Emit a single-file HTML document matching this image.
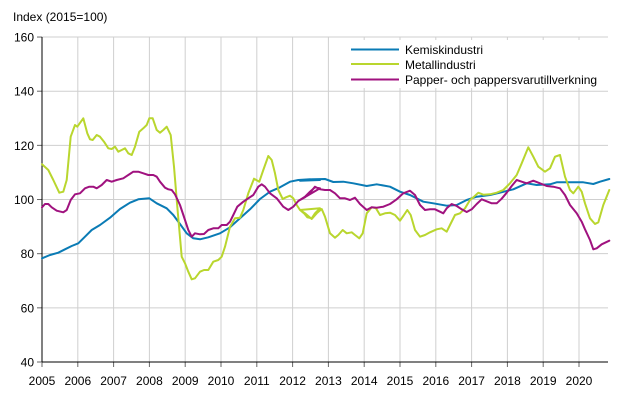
<!DOCTYPE html>
<html><head><meta charset="utf-8"><style>
body{margin:0;background:#fff}
svg{display:block;font-family:"Liberation Sans",sans-serif;font-size:12px;fill:#000}
</style></head><body>
<svg id="s" width="620" height="400" xmlns="http://www.w3.org/2000/svg">
<text x="13" y="21">Index (2015=100)</text>
<g id="grid" stroke="#cfcfcf" stroke-width="1"></g>
<g id="ax"></g>
<g id="series" fill="none" stroke-width="2" stroke-linejoin="round" stroke-linecap="round"></g>
<g>
<rect x="345" y="40" width="262" height="48" fill="#fff"/>
<line x1="351" y1="49.5" x2="399" y2="49.5" stroke="#0a7bb5" stroke-width="2"/>
<line x1="351" y1="64" x2="399" y2="64" stroke="#b9d62e" stroke-width="2"/>
<line x1="351" y1="79.5" x2="399" y2="79.5" stroke="#a0127f" stroke-width="2"/>
<text x="405" y="54">Kemiskindustri</text>
<text x="405" y="69">Metallindustri</text>
<text x="405" y="84">Papper- och pappersvarutillverkning</text>
</g>
</svg>
<script>
var NS="http://www.w3.org/2000/svg";
function el(p,t,a,txt){var e=document.createElementNS(NS,t);for(var k in a)e.setAttribute(k,a[k]);if(txt)e.textContent=txt;p.appendChild(e);return e;}
var g=document.getElementById('grid'),ax=document.getElementById('ax'),se=document.getElementById('series');
for(var v=60;v<=160;v+=20){var y=362-(v-40)*2.708;el(g,'line',{x1:42,x2:608,y1:y,y2:y});}
for(var i=0;i<=15;i++){var x=42+i*35.8;if(i>0)el(g,'line',{x1:x,x2:x,y1:37,y2:362});
el(ax,'line',{x1:x,x2:x,y1:362,y2:367,stroke:'#666'});
el(ax,'text',{x:x,y:385,'text-anchor':'middle'},String(2005+i));}
for(var v=40;v<=160;v+=20){var y=362-(v-40)*2.708;el(ax,'line',{x1:37,x2:42,y1:y,y2:y,stroke:'#666'});
el(ax,'text',{x:34,y:y+4.5,'text-anchor':'end'},String(v));}
el(ax,'line',{x1:42,x2:42,y1:37,y2:362,stroke:'#000'});
el(ax,'line',{x1:42,x2:608,y1:362,y2:362,stroke:'#000'});
function P(a,b){var s=[];for(var i=0;i<a.length;i+=2)s.push((a[i]/3).toFixed(1)+','+(a[i+1]/3).toFixed(1));for(var i=0;i<b.length;i+=2)s.push(((b[i]+900)/3).toFixed(1)+','+(b[i+1]/3).toFixed(1));return s.join(' ');}
var kemi1=[126,775,150,765,175,758,195,748,215,738,235,730,255,710,275,690,300,675,330,653,360,627,390,608,415,598,448,595,470,610,500,625,520,645,540,672,560,700,580,715,600,718,625,712,660,700,690,682,720,655,750,628,780,597,810,575,840,562,870,545,895,540,930,538,960,540];
var kemi2=[0,542,40,538,75,537,100,546,130,545,160,550,200,558,230,553,270,560,300,575,330,585,370,605,400,610,440,617,470,615,500,600,530,590,570,585,600,578,640,568,680,550,710,555,750,553,770,547,800,547,850,547,880,552,900,545,928,537];
var met1=[126,493,145,510,160,540,178,578,190,575,200,540,212,410,225,375,232,380,250,355,262,400,270,418,278,420,290,405,300,410,312,425,325,445,335,447,345,440,355,455,365,450,375,445,385,460,395,465,405,440,418,395,430,385,440,375,448,355,458,355,470,390,480,398,490,390,500,380,512,405,522,500,532,620,545,770,555,790,565,815,575,838,585,835,600,815,612,810,625,810,640,785,655,780,665,770,675,740,690,680,705,655,720,653,730,630,745,580,762,536,778,545,790,510,805,468,815,480,825,520,835,570,848,597,858,592,870,587,880,595,890,615,900,630,912,640,922,652,935,655,945,640,960,625];
var met2=[0,630,15,640,35,657,50,640,65,627,75,650,90,700,105,713,115,705,128,690,140,700,155,697,165,705,178,715,188,700,200,640,215,622,228,625,240,645,255,640,270,638,285,645,300,662,310,648,322,630,332,645,345,690,360,710,375,705,390,697,410,688,425,685,440,695,450,675,465,645,480,640,495,625,510,600,520,592,535,578,550,584,570,583,590,578,610,570,630,550,650,525,665,490,685,442,700,470,715,500,735,515,750,505,765,470,780,465,795,530,810,570,820,580,835,560,845,575,855,610,870,655,885,672,895,667,910,615,928,570];
var pap1=[126,622,135,612,145,612,155,622,170,632,190,637,200,630,212,600,225,583,240,580,255,565,268,560,280,560,290,565,305,555,320,540,335,545,350,540,370,535,385,525,400,515,415,515,430,520,445,525,460,525,470,530,480,545,495,563,505,568,515,570,525,583,540,615,555,660,565,690,575,710,585,700,600,703,612,702,625,690,640,685,655,685,665,675,680,675,690,665,700,645,712,620,730,605,745,595,760,585,775,560,785,553,795,560,810,580,830,595,850,620,865,630,880,620,895,603,915,590,930,575,945,562,960,565];
var pap2=[0,600,15,592,30,578,45,560,60,568,75,570,90,570,105,580,120,595,135,595,150,600,165,593,180,612,200,630,215,622,230,623,250,620,270,612,290,598,310,580,330,572,345,585,360,615,375,630,390,628,405,628,420,635,430,640,440,625,455,612,470,618,485,628,500,636,515,628,530,612,545,598,560,604,575,610,590,610,605,596,620,578,635,558,650,540,665,545,680,550,700,542,720,550,740,558,760,560,780,565,795,585,810,615,830,640,845,665,855,688,870,720,880,748,890,745,905,733,928,722];
el(se,'polyline',{points:P(kemi1,kemi2),stroke:'#0a7bb5'});
el(se,'polyline',{points:P(met1,met2),stroke:'#b9d62e'});
el(se,'polyline',{points:P(pap1,pap2),stroke:'#a0127f'});
</script>
</body></html>
